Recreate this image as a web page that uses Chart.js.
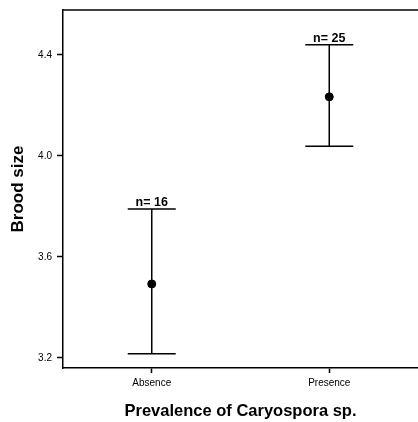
<!DOCTYPE html>
<html>
<head>
<meta charset="utf-8">
<script src="https://cdn.jsdelivr.net/npm/chart.js@4"></script>
<style>
  html, body { margin: 0; padding: 0; background: #fff; }
  #wrap { width: 418px; height: 422px; position: relative; }
</style>
</head>
<body>
<div id="wrap"><canvas id="c" width="418" height="422"></canvas></div>
<script>
const categories = ['Absence', 'Presence'];
const means = [3.493, 4.234];
const upper = [3.790, 4.440];
const lower = [3.216, 4.038];
const nLabels = ['n= 16', 'n= 25'];
const yTicks = [3.2, 3.6, 4.0, 4.4];

const xPos = categories.map((c, i) => i + 0.5);
const points = means.map((m, i) => ({ x: xPos[i], y: m }));

const errorBars = {
  id: 'errorBars',
  afterDatasetsDraw(chart) {
    const { ctx, scales: { x, y }, chartArea } = chart;
    ctx.save();
    ctx.strokeStyle = '#000';
    ctx.fillStyle = '#000';
    ctx.lineWidth = 1.5;
    ctx.beginPath();
    ctx.moveTo(chartArea.left, chartArea.top);
    ctx.lineTo(chartArea.right, chartArea.top);
    ctx.stroke();
    categories.forEach((c, i) => {
      const px = x.getPixelForValue(xPos[i]);
      const pu = y.getPixelForValue(upper[i]);
      const pl = y.getPixelForValue(lower[i]);
      const half = 24;
      ctx.lineWidth = 1.5;
      ctx.beginPath();
      ctx.moveTo(px, pu); ctx.lineTo(px, pl);
      ctx.moveTo(px - half, pu); ctx.lineTo(px + half, pu);
      ctx.moveTo(px - half, pl); ctx.lineTo(px + half, pl);
      ctx.stroke();
      ctx.font = 'bold 12.5px "Liberation Sans", Arial, sans-serif';
      ctx.textAlign = 'center';
      ctx.textBaseline = 'alphabetic';
      ctx.fillText(nLabels[i], px, pu - 3);
    });
    ctx.restore();
  }
};

new Chart(document.getElementById('c'), {
  type: 'scatter',
  data: {
    datasets: [{
      data: points,
      backgroundColor: '#000',
      borderColor: '#000',
      pointRadius: 4,
      pointHoverRadius: 4
    }]
  },
  options: {
    responsive: false,
    animation: false,
    layout: { autoPadding: false, padding: { top: 10, right: 0, left: 0, bottom: 0 } },
    plugins: { legend: { display: false }, tooltip: { enabled: false } },
    scales: {
      x: {
        type: 'linear',
        min: 0, max: 2,
        afterBuildTicks(scale) { scale.ticks = xPos.map(v => ({ value: v })); },
        afterFit(scale) { scale.height = 54; scale.paddingRight = 0; scale.paddingLeft = 0; },
        grid: { display: true, drawOnChartArea: false, drawTicks: true, tickLength: 5, tickColor: '#000', tickWidth: 1.5 },
        border: { display: true, color: '#000', width: 1.5 },
        ticks: {
          color: '#000',
          padding: 4,
          maxRotation: 0,
          font: { family: '"Liberation Sans", Arial, sans-serif', size: 10 },
          callback(v) { const i = xPos.indexOf(v); return i >= 0 ? categories[i] : ''; }
        },
        title: {
          display: true,
          text: 'Prevalence of Caryospora sp.',
          color: '#000',
          font: { family: '"Liberation Sans", Arial, sans-serif', size: 16.5, weight: 'bold' },
          padding: { top: 0, bottom: 1 }
        }
      },
      y: {
        type: 'linear',
        min: 3.16, max: 4.578,
        afterBuildTicks(scale) { scale.ticks = yTicks.map(v => ({ value: v })); },
        afterFit(scale) { scale.width = 63; scale.paddingTop = 0; scale.paddingBottom = 0; },
        grid: { display: true, drawOnChartArea: false, drawTicks: true, tickLength: 6, tickColor: '#000', tickWidth: 1.5 },
        border: { display: true, color: '#000', width: 1.5 },
        ticks: {
          color: '#000',
          padding: 5,
          font: { family: '"Liberation Sans", Arial, sans-serif', size: 10 },
          callback(v) { return v.toFixed(1); }
        },
        title: {
          display: true,
          text: 'Brood size',
          color: '#000',
          font: { family: '"Liberation Sans", Arial, sans-serif', size: 17, weight: 'bold' },
          padding: { top: 8, bottom: 0 }
        }
      }
    }
  },
  plugins: [errorBars]
});
</script>
</body>
</html>
